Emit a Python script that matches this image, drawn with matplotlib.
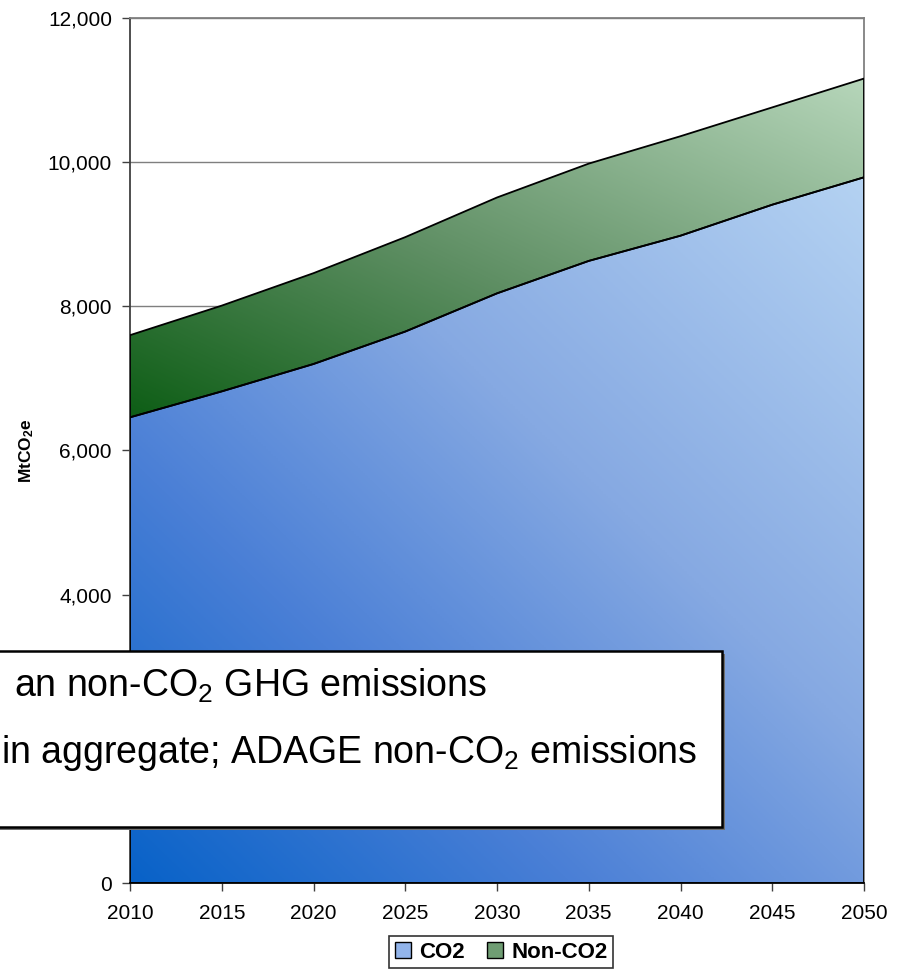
import numpy as np
import matplotlib.pyplot as plt
from matplotlib.colors import LinearSegmentedColormap
from matplotlib.patches import Rectangle, Patch
from matplotlib.ticker import FuncFormatter

plt.rcParams['font.family'] = ['Liberation Sans', 'DejaVu Sans']
plt.rcParams['mathtext.fontset'] = 'custom'
plt.rcParams['mathtext.rm'] = 'Liberation Sans'
plt.rcParams['mathtext.it'] = 'Liberation Sans:italic'
plt.rcParams['mathtext.bf'] = 'Liberation Sans:bold'

# data (MtCO2e)
years = [2010, 2015, 2020, 2025, 2030, 2035, 2040, 2045, 2050]
co2 = [6460, 6820, 7200, 7650, 8180, 8630, 8980, 9410, 9790]
non_co2 = [1140, 1190, 1260, 1310, 1330, 1350, 1380, 1350, 1370]
y_ticks = [0, 2000, 4000, 6000, 8000, 10000, 12000]
series_names = ['CO2', 'Non-CO2']

W, H = 903, 972


def gradient_fill(ax, x, lower, upper, colors):
    """Fill between lower/upper with a diagonal gradient (dark bottom-left -> light top-right)."""
    poly = ax.fill_between(x, lower, upper, facecolor='none', edgecolor='black',
                           linewidth=1.3, zorder=3)
    x0, x1 = min(x), max(x)
    y0, y1 = min(lower), max(upper)
    gx, gy = np.meshgrid(np.linspace(0, 1, 300), np.linspace(0, 1, 300))
    t = (gx + gy) / 2
    cmap = LinearSegmentedColormap.from_list('grad', colors)
    im = ax.imshow(t, cmap=cmap, extent=[x0, x1, y0, y1], origin='lower',
                   aspect='auto', zorder=2, vmin=0, vmax=1, interpolation='bilinear')
    im.set_clip_path(poly.get_paths()[0], transform=ax.transData)
    return poly


fig = plt.figure(figsize=(W / 100, H / 100), dpi=100)
ax = fig.add_axes([130 / W, 1 - 883 / H, (864 - 130) / W, (883 - 18) / H])

x = np.array(years)
base = np.zeros(len(years))
lower = np.array(co2)
upper = lower + np.array(non_co2)

gradient_fill(ax, x, base, lower,
              [(0, '#0862c8'), (0.3, '#4a7fd6'), (0.6, '#86a9e2'), (1, '#b4d2f2')])
gradient_fill(ax, x, lower, upper,
              [(0, '#0e5e16'), (0.45, '#5f8f64'), (1, '#b6d6ba')])

ax.set_xlim(2010, 2050)
ax.set_ylim(0, 12000)
ax.set_xticks(years)
ax.set_yticks(y_ticks)
ax.yaxis.set_major_formatter(FuncFormatter(lambda v, p: f'{int(v):,}'))
ax.tick_params(axis='both', direction='out', length=6, width=1, labelsize=15,
               color='#404040')
ax.tick_params(axis='x', pad=9)
ax.tick_params(axis='y', pad=7)

ax.set_axisbelow(True)
ax.yaxis.grid(True, color='#7f7f7f', linewidth=1)
ax.spines['left'].set_color('#404040')
ax.spines['bottom'].set_color('black')
ax.spines['top'].set_color('#808080')
ax.spines['right'].set_color('#808080')
for s in ax.spines.values():
    s.set_linewidth(1.3)

fig.text(27 / W, 1 - 451 / H, r'MtCO$_\mathbf{2}$e', rotation=90, fontsize=12.5,
         fontweight='bold', ha='center', va='center')

# legend
handles = [Patch(facecolor='#92b4ea', edgecolor='black', linewidth=1),
           Patch(facecolor='#6f9d73', edgecolor='black', linewidth=1)]
leg = fig.legend(handles, series_names, loc='upper center',
                 bbox_to_anchor=(501 / W, 1 - 936 / H), bbox_transform=fig.transFigure,
                 ncol=2, frameon=True, fancybox=False, edgecolor='black',
                 prop={'weight': 'bold', 'size': 16}, handlelength=0.75,
                 handleheight=0.75, handletextpad=0.35, columnspacing=1.0,
                 borderpad=0.25, borderaxespad=0)
leg.get_frame().set_linewidth(1.2)

# overlaid text box (cut at left edge of the image)
shadow = Rectangle((-20 / W, 1 - 830 / H), (722 + 20 + 3) / W, (830 - 654) / H,
                   transform=fig.transFigure, facecolor='#707070', edgecolor='none',
                   zorder=10)
box = Rectangle((-20 / W, 1 - 827 / H), (722 + 20) / W, (827 - 651) / H,
                transform=fig.transFigure, facecolor='white', edgecolor='black',
                linewidth=1.8, zorder=11)
fig.add_artist(shadow)
fig.add_artist(box)
fig.text(487 / W, 1 - 697 / H, r'an non-CO$_2$ GHG emissions', fontsize=27,
         ha='right', va='baseline', zorder=12)
fig.text(697 / W, 1 - 763 / H, r'in aggregate; ADAGE non-CO$_2$ emissions', fontsize=27,
         ha='right', va='baseline', zorder=12)

fig.savefig('out.png', dpi=100)
